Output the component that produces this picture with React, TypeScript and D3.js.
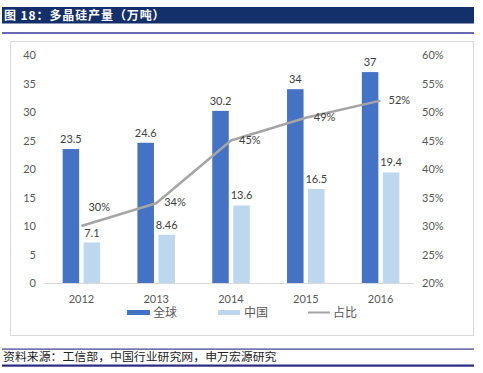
import React from "react";
import * as d3 from "d3";

const years = ["2012", "2013", "2014", "2015", "2016"];
const globalOutput = [23.5, 24.6, 30.2, 34, 37];
const chinaOutput = [7.1, 8.46, 13.6, 16.5, 19.4];
const shareLabels = ["30%", "34%", "45%", "49%", "52%"];
const shareValues = [0.30, 0.34, 0.45, 0.49, 0.52];
const leftTicks = [0, 5, 10, 15, 20, 25, 30, 35, 40];
const rightTicks = [0.2, 0.25, 0.3, 0.35, 0.4, 0.45, 0.5, 0.55, 0.6];
const seriesNames = ["全球", "中国", "占比"];
const titleText = "图 18：多晶硅产量（万吨）";
const sourceText = "资料来源：工信部，中国行业研究网，申万宏源研究";

const W = 483;
const H = 373;
const DARK = "#4472C4";
const LIGHT = "#BDD7EE";
const GRAY = "#A5A5A5";
const TXT = "#404040";
const AX = "#595959";
const FONT = "Lato, 'Noto Sans', sans-serif";
const CJK = "'Noto Sans CJK SC', sans-serif";

export default function App() {
  const x = d3.scaleBand<string>().domain(years).range([44, 418]).paddingInner(0).paddingOuter(0);
  const yL = d3.scaleLinear().domain([0, 40]).range([283, 55]);
  const yR = d3.scaleLinear().domain([0.2, 0.6]).range([283, 55]);
  const barW = 16.5;
  const gap = 4.5;
  const cx = (y: string) => (x(y) as number) + x.bandwidth() / 2;
  const line = d3
    .line<number>()
    .x((_, i) => cx(years[i]))
    .y((d) => yR(d));

  return (
    <svg
      width={W}
      height={H}
      style={{ position: "absolute", left: 0, top: 0 }}
      xmlns="http://www.w3.org/2000/svg"
    >
      <rect x={0} y={0} width={W} height={H} fill="#fff" />
      {/* title bar */}
      <rect x={2} y={7} width={472} height={16.5} fill="#14306B" />
      <text x={4} y={20} fill="#fff" fontFamily={CJK} fontWeight="bold" fontSize={12} letterSpacing={0.9}>
        {titleText}
      </text>
      <rect x={2} y={32} width={472} height={2} fill="#6A6AB4" />

      {/* chart frame */}
      <rect x={10.5} y={41.5} width={463} height={294} fill="#fff" stroke="#D9D9D9" />

      {/* axis baseline */}
      <line x1={44} x2={414} y1={yL(0) + 0.5} y2={yL(0) + 0.5} stroke="#D9D9D9" />

      {leftTicks.map((t) => (
        <text key={"l" + t} x={36} y={yL(t) + 4} textAnchor="end" fontFamily={FONT} fontSize={11} fill={AX}>
          {t}
        </text>
      ))}
      {rightTicks.map((t) => (
        <text key={"r" + t} x={422} y={yR(t) + 4} textAnchor="start" fontFamily={FONT} fontSize={11} fill={AX}>
          {Math.round(t * 100) + "%"}
        </text>
      ))}

      {years.map((yr, i) => {
        const c = cx(yr);
        const g = globalOutput[i];
        const cn = chinaOutput[i];
        return (
          <g key={yr}>
            <rect x={c - gap / 2 - barW} y={yL(g)} width={barW} height={yL(0) - yL(g)} fill={DARK} />
            <rect x={c + gap / 2} y={yL(cn)} width={barW} height={yL(0) - yL(cn)} fill={LIGHT} />
            <text x={c - gap / 2 - barW / 2} y={yL(g) - 6} textAnchor="middle" fontFamily={FONT} fontSize={11} fill={TXT}>
              {g}
            </text>
            <text x={c + gap / 2 + barW / 2} y={yL(cn) - 6} textAnchor="middle" fontFamily={FONT} fontSize={11} fill={TXT}>
              {cn}
            </text>
            <text x={c} y={303} textAnchor="middle" fontFamily={FONT} fontSize={11} fill={AX}>
              {yr}
            </text>
          </g>
        );
      })}

      <path d={line(shareValues) || ""} fill="none" stroke={GRAY} strokeWidth={2.5} strokeLinejoin="round" />
      {shareValues.map((v, i) => {
        const c = cx(years[i]);
        const first = i === 0;
        return (
          <text
            key={"s" + i}
            x={first ? c + 7 : c + 8}
            y={first ? yR(v) - 15 : yR(v) + 3}
            textAnchor="start"
            fontFamily={FONT}
            fontSize={11}
            fill={TXT}
          >
            {shareLabels[i]}
          </text>
        );
      })}

      {/* legend */}
      <rect x={127} y={310} width={23} height={5} fill={DARK} />
      <text x={153} y={317} fontFamily={CJK} fontSize={12} fill={AX}>{seriesNames[0]}</text>
      <rect x={218} y={310} width={22} height={5} fill={LIGHT} />
      <text x={244} y={317} fontFamily={CJK} fontSize={12} fill={AX}>{seriesNames[1]}</text>
      <line x1={308} x2={330} y1={312.5} y2={312.5} stroke={GRAY} strokeWidth={2} />
      <text x={333} y={317} fontFamily={CJK} fontSize={12} fill={AX}>{seriesNames[2]}</text>

      {/* footer */}
      <rect x={2} y={348.5} width={472} height={1.2} fill="#3A3A8C" />
      <text x={3} y={361} fontFamily={CJK} fontSize={11.9} fill="#222">
        {sourceText}
      </text>
      <rect x={2} y={364.5} width={472} height={2.2} fill="#2A2A80" />
    </svg>
  );
}
